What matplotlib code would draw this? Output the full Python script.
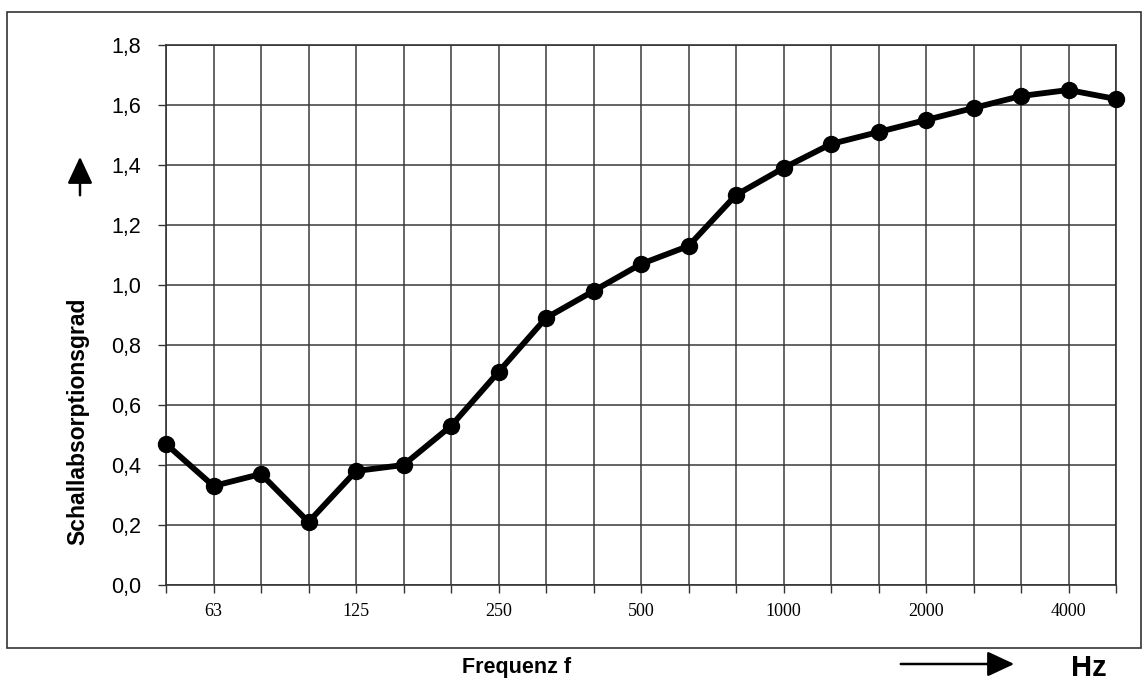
import matplotlib.pyplot as plt
from matplotlib.patches import Rectangle, FancyArrowPatch

# Terzband-Mittenfrequenzen und Schallabsorptionsgrad
freqs = ['50', '63', '80', '100', '125', '160', '200', '250', '315', '400',
         '500', '630', '800', '1000', '1250', '1600', '2000', '2500', '3150',
         '4000', '5000']
alpha = [0.47, 0.33, 0.37, 0.21, 0.38, 0.40, 0.53, 0.71, 0.89, 0.98,
         1.07, 1.13, 1.30, 1.39, 1.47, 1.51, 1.55, 1.59, 1.63, 1.65, 1.62]
shown = ['63', '125', '250', '500', '1000', '2000', '4000']

W, H = 1142, 684
fig = plt.figure(figsize=(W / 100, H / 100), dpi=100)

# Rahmen um das ganze Diagramm
fig.patches.append(Rectangle((7 / W, 1 - 648 / H), (1141 - 7) / W, (648 - 12) / H,
                             transform=fig.transFigure, fill=False,
                             edgecolor='#333333', linewidth=1.2))

ax = fig.add_axes([166 / W, 1 - 585 / H, (1116 - 166) / W, (585 - 45) / H])
x = list(range(len(freqs)))
ax.plot(x, alpha, color='black', linewidth=4.2, marker='o', markersize=11.5,
        zorder=3, clip_on=False)

ax.set_xlim(0, len(freqs) - 1)
ax.set_ylim(0, 1.8)
ax.set_yticks([i * 0.2 for i in range(10)])
ax.set_yticklabels([f'{i * 0.2:.1f}'.replace('.', ',') for i in range(10)],
                   fontsize=15.5, family='Liberation Sans')
ax.set_xticks(x)
ax.set_xticklabels([f if f in shown else '' for f in freqs],
                   fontsize=13, family='Liberation Serif')
ax.tick_params(axis='both', length=6, width=1, color='#333333')
ax.tick_params(axis='y', pad=12)
ax.tick_params(axis='x', pad=7)
ax.grid(True, color='#3a3a3a', linewidth=1.1)
for s in ax.spines.values():
    s.set_color('#333333')
    s.set_linewidth(1.2)

# Achsbeschriftungen mit Pfeilen
fig.text(78 / W, 1 - 421 / H, 'Schallabsorptionsgrad', rotation=90,
         ha='center', va='center', fontsize=16.5, fontweight='bold',
         family='Liberation Sans')
fig.text(517 / W, 1 - 668 / H, 'Frequenz f', ha='center', va='center',
         fontsize=15.5, fontweight='bold', family='Liberation Sans')
fig.text(1089 / W, 1 - 668 / H, 'Hz', ha='center', va='center',
         fontsize=21, fontweight='bold', family='Liberation Sans')
fig.add_artist(FancyArrowPatch(
    (80 / W, 1 - 198 / H), (80 / W, 1 - 154 / H), transform=fig.transFigure,
    arrowstyle='-|>,head_length=7.5,head_width=3.5', color='black',
    linewidth=1.8, mutation_scale=2.2))
fig.add_artist(FancyArrowPatch(
    (898 / W, 1 - 664 / H), (1017 / W, 1 - 664 / H), transform=fig.transFigure,
    arrowstyle='-|>,head_length=7.5,head_width=3.5', color='black',
    linewidth=1.8, mutation_scale=2.2))

plt.savefig('out.png', dpi=100)
